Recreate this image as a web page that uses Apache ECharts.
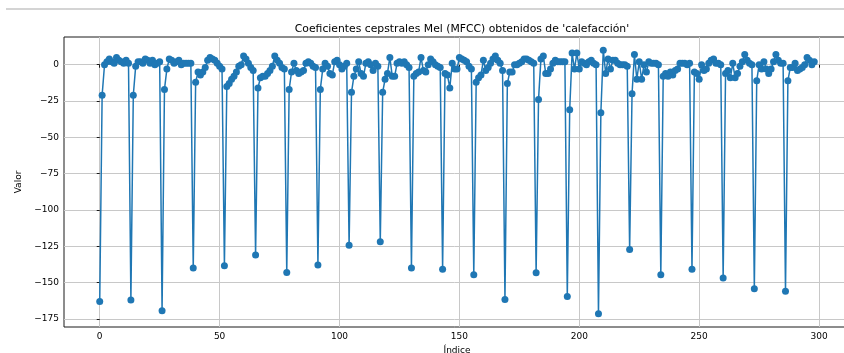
<!DOCTYPE html>
<html>
<head>
<meta charset="utf-8">
<script src="https://cdn.jsdelivr.net/npm/echarts@6/dist/echarts.min.js"></script>
<style>
  html, body { margin: 0; padding: 0; background: #fff; }
  #chart { width: 844px; height: 353px; }
</style>
</head>
<body>
<div id="chart"></div>
<script>
// 13 MFCC coefficients per analysis frame, 23 frames in a row
const frame00 = [-162.9, -21, 0, 2, 4, 2, 1, 5, 3, 2, 1, 3, 1];
const frame01 = [-161.9, -21, -1, 2, 2, 1, 4, 3, 1, 3, 0, 1, 2];
const frame02 = [-169.3, -17, -3, 4, 3, 1, 2, 3, 0, 1, 1, 1, 1];
const frame03 = [-139.9, -12, -5, -7, -5, -2, 3, 5, 4, 3, 1, -1, -3];
const frame04 = [-138.3, -15, -13, -10, -8, -5, -1, 0, 6, 4, 1, -2, -4];
const frame05 = [-130.9, -16, -9, -8, -8, -6, -4, -1, 6, 3, 1, -2, -3];
const frame06 = [-142.9, -17, -5, 1, -4, -6, -5, -4, 1, 2, 1, -1, -2];
const frame07 = [-137.8, -17, -3, 1, -1, -6, -7, 2, 3, 0, -3, -1, 1];
const frame08 = [-124.3, -19, -8, -3, 2, -6, -8, 1, 2, 0, -4, 1, -1];
const frame09 = [-121.8, -19, -10, -6, 5, -8, -8, 1, 2, 1, 2, 0, -2];
const frame10 = [-139.9, -8, -6, -5, 5, -4, -5, 0, 4, 2, 0, -1, -2];
const frame11 = [-140.8, -6, -7, -16, 1, -3, -3, 5, 4, 3, 2, -1, -3];
const frame12 = [-144.5, -12, -9, -7, 3, -4, -2, 1, 4, 6, 3, 1, -4];
const frame13 = [-161.5, -13, -5, -5, 0, 0, 1, 2, 4, 4, 3, 2, 1];
const frame14 = [-143.1, -24, 4, 6, -6, -6, -3, 1, 3, 2, 2, 2, 2];
const frame15 = [-159.4, -31, 8, -3, 8, -3, 2, 1, 0, 2, 3, 1, 0];
const frame16 = [-171.4, -33, 10, -6, 4, -3, 3, 3, 1, 0, 0, 0, -1];
const frame17 = [-127.1, -20, 7, -10, 2, -10, 0, -5, 2, 1, 1, 1, 0];
const frame18 = [-144.5, -8, -6, -8, -5, -7, -4, -3, 1, 1, 1, 0, 1];
const frame19 = [-140.8, -5, -6, -10, 0, -4, -3, 1, 3, 4, 1, 1, 0];
const frame20 = [-146.8, -6, -4, -9, 1, -9, -6, -1, 2, 7, 3, 1, 0];
const frame21 = [-154.1, -11, 0, -3, 2, -3, -6, -3, 2, 7, 3, 1, 1];
const frame22 = [-155.9, -11, -2, -2, 1, -4, -3, -2, 0, 5, 3, 0, 2];

const xTicks = [0, 50, 100, 150, 200, 250, 300];
const yTicks = [-175, -150, -125, -100, -75, -50, -25, 0];

const values = [].concat(
  frame00, frame01, frame02, frame03, frame04, frame05, frame06, frame07,
  frame08, frame09, frame10, frame11, frame12, frame13, frame14, frame15,
  frame16, frame17, frame18, frame19, frame20, frame21, frame22
);
const points = values.map((v, i) => [i, v]);

// matplotlib-like 5% margins around the data
const xMin = -0.05 * (values.length - 1);
const xMax = (values.length - 1) * 1.05;
const vMin = Math.min(...values), vMax = Math.max(...values);
const yPad = 0.05 * (vMax - vMin);

const FONT = 'DejaVu Sans';
const minus = s => String(s).replace('-', '\u2212');

const chart = echarts.init(document.getElementById('chart'), null, { renderer: 'canvas' });
chart.setOption({
  animation: false,
  backgroundColor: '#ffffff',
  title: {
    text: "Coeficientes cepstrales Mel (MFCC) obtenidos de 'calefacción'",
    left: 457,
    top: 19,
    textAlign: 'center',
    textStyle: { fontFamily: FONT, fontSize: 10.8, fontWeight: 'normal', color: '#000' }
  },
  graphic: [{
    type: 'line',
    shape: { x1: 6, y1: 9, x2: 844, y2: 9 },
    style: { stroke: '#d4d4d4', lineWidth: 2 }
  }],
  grid: {
    left: 64, top: 37, width: 786, height: 290,
    outerBoundsMode: 'none',
    containLabel: false,
    show: true, borderColor: '#1a1a1a', borderWidth: 1, backgroundColor: 'transparent'
  },
  xAxis: {
    type: 'value',
    min: xMin, max: xMax,
    name: 'Índice',
    nameLocation: 'middle',
    nameGap: 19,
    nameTextStyle: { fontFamily: FONT, fontSize: 9, color: '#000' },
    axisLine: { show: false },
    axisTick: { show: true, length: 3, customValues: xTicks, lineStyle: { color: '#1a1a1a', width: 1 } },
    axisLabel: { customValues: xTicks, margin: 5, fontFamily: FONT, fontSize: 9, color: '#000' },
    splitLine: { show: true, lineStyle: { color: '#c8c8c8', width: 1 } }
  },
  yAxis: {
    type: 'value',
    min: vMin - yPad, max: vMax + yPad,
    name: 'Valor',
    nameLocation: 'middle',
    nameGap: 40,
    nameRotate: 90,
    nameTextStyle: { fontFamily: FONT, fontSize: 9, color: '#000' },
    axisLine: { show: false },
    axisTick: { show: true, length: 3, customValues: yTicks, lineStyle: { color: '#1a1a1a', width: 1 } },
    axisLabel: { customValues: yTicks, margin: 5, fontFamily: FONT, fontSize: 9, color: '#000', formatter: v => minus(v) },
    splitLine: { show: true, lineStyle: { color: '#c8c8c8', width: 1 } }
  },
  series: [{
    type: 'line',
    data: points,
    symbol: 'circle',
    symbolSize: 7,
    showSymbol: true,
    color: '#1f77b4',
    itemStyle: { color: '#1f77b4' },
    lineStyle: { color: '#1f77b4', width: 1.5 },
    clip: true
  }]
});
</script>
</body>
</html>
